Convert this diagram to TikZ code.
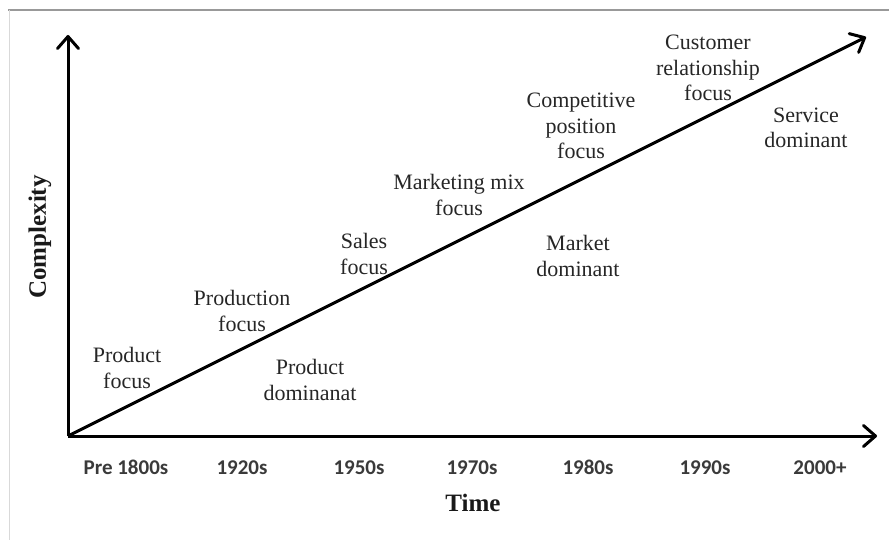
\documentclass[tikz,border=0pt]{standalone}
\usepackage{fontspec}
\setmainfont{Liberation Serif}
\newfontfamily\califont{Carlito}
\usetikzlibrary{arrows.meta}
\definecolor{txt}{HTML}{262626}
\definecolor{ticktxt}{HTML}{3A3A3A}
\tikzset{
  lbl/.style={align=center, text=txt, inner sep=0pt, font=\rmfamily\fontsize{22}{25.5}\selectfont},
  tick/.style={anchor=base, text=ticktxt, inner sep=0pt, font=\califont\bfseries\fontsize{21}{25}\selectfont},
  axtitle/.style={text=black!90, inner sep=0pt, font=\rmfamily\bfseries\fontsize{25}{30}\selectfont},
  axis/.style={line width=3pt, -{Straight Barb[length=12pt,width=21pt,line width=3pt,round]}},
}
\begin{document}
\begin{tikzpicture}[x=1pt,y=-1pt]
\useasboundingbox (0,0) rectangle (889,540);
% frame
\draw[line width=1.5pt, black!40] (8,10) -- (889,10);
\draw[line width=1pt, black!15] (9,10) -- (9,540);
% axes
\coordinate (O) at (68,436);
\coordinate (Ytip) at (68,35);
\coordinate (Xtip) at (877,436);
\coordinate (Dtip) at (866,37);
\draw[axis] (O) -- (Ytip);
\draw[axis] (O) -- (Xtip);
\draw[axis] (O) -- (Dtip);
% labels
\node[lbl] (pf) at (127,368) {Product\\focus};
\node[lbl] (prf) at (242,311) {Production\\focus};
\node[lbl] (pd) at (310,380) {Product\\dominanat};
\node[lbl] (sf) at (364,254) {Sales\\focus};
\node[lbl] (mmf) at (459,195) {Marketing mix\\focus};
\node[lbl] (md) at (578,256) {Market\\dominant};
\node[lbl] (cpf) at (581,126) {Competitive\\position\\focus};
\node[lbl] (crf) at (708,68) {Customer\\relationship\\focus};
\node[lbl] (sd) at (806,128) {Service\\dominant};
% axis titles
\node[axtitle, rotate=90] (cx) at (40,237) {Complexity};
\node[axtitle] (tm) at (473,503) {Time};
% ticks
\node[tick] (t1) at (126,474) {Pre 1800s};
\node[tick] (t2) at (242,474) {1920s};
\node[tick] (t3) at (359,474) {1950s};
\node[tick] (t4) at (472,474) {1970s};
\node[tick] (t5) at (588,474) {1980s};
\node[tick] (t6) at (705,474) {1990s};
\node[tick] (t7) at (820,474) {2000+};
\end{tikzpicture}
\end{document}
